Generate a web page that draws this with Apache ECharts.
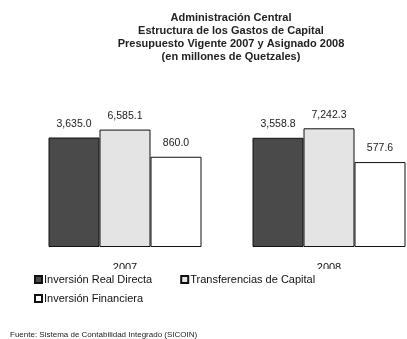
<!DOCTYPE html>
<html>
<head>
<meta charset="utf-8">
<script src="https://cdn.jsdelivr.net/npm/echarts@6/dist/echarts.min.js"></script>
<style>html,body{margin:0;padding:0;background:#fff;}#c{width:407px;height:339px;}</style>
</head>
<body>
<div id="c"></div>
<script>
var titleLines = ['Administración Central', 'Estructura de los Gastos de Capital', 'Presupuesto Vigente 2007 y Asignado 2008', '(en millones de Quetzales)'];
var categories = ['2007', '2008'];
var seriesNames = ['Inversión Real Directa', 'Transferencias de Capital', 'Inversión Financiera'];
var inversionReal = [3635.0, 3558.8];
var transferencias = [6585.1, 7242.3];
var inversionFin = [860.0, 577.6];
var sourceText = 'Fuente: Sistema de Contabilidad Integrado (SICOIN)';

var font = 'Liberation Sans, Arial, sans-serif';
function fmt(v) {
  var s = v.toFixed(1);
  var p = s.split('.');
  p[0] = p[0].replace(/\B(?=(\d{3})+(?!\d))/g, ',');
  return p.join('.');
}
var colors = ['#4a4a4a', '#e4e4e4', '#ffffff'];
var dataSets = [inversionReal, transferencias, inversionFin];

var chart = echarts.init(document.getElementById('c'), null, {renderer: 'canvas'});
chart.setOption({
  backgroundColor: '#fff',
  animation: false,
  title: {
    text: titleLines.join('\n'),
    left: 226, top: 6, textAlign: 'center',
    textStyle: {fontFamily: font, fontSize: 11, fontWeight: 'bold', color: '#222', lineHeight: 13}
  },
  graphic: [{
    type: 'rect', left: 0, top: 269, z: 3, silent: true,
    shape: {width: 407, height: 5},
    style: {fill: '#fff'}
  }, {
    type: 'text', left: 10, top: 331,
    style: {text: sourceText, font: '8px ' + font, fill: '#222'}
  }],
  legend: [{
    data: seriesNames.slice(0, 2),
    left: 34, top: 269, padding: [5, 0, 0, 0],
    backgroundColor: '#fff',
    itemWidth: 7, itemHeight: 7, itemGap: 28,
    icon: 'rect',
    textStyle: {fontFamily: font, fontSize: 11, color: '#111', padding: [0, 0, 0, -3]}
  }, {
    data: seriesNames.slice(2),
    left: 34, top: 293, padding: 0,
    itemWidth: 7, itemHeight: 7,
    icon: 'rect',
    textStyle: {fontFamily: font, fontSize: 11, color: '#111', padding: [0, 0, 0, -3]}
  }],
  grid: {left: 125, width: 204, top: 124, bottom: 92, containLabel: false},
  xAxis: {
    type: 'category', data: categories, boundaryGap: false,
    axisLine: {show: false}, axisTick: {show: false},
    axisLabel: {margin: 15, fontFamily: font, fontSize: 11, color: '#111', verticalAlign: 'top'}
  },
  yAxis: {
    type: 'log', logBase: 10, min: 1, max: 10000, show: false,
    splitLine: {show: false}
  },
  series: seriesNames.map(function (n, i) {
    return {
      name: n, type: 'bar', data: dataSets[i],
      barGap: '0%', barWidth: 51, clip: false,
      itemStyle: {color: colors[i], borderColor: '#111', borderWidth: 1},
      label: {
        show: true, position: 'top', distance: 8,
        fontFamily: font, fontSize: 10.5, color: '#222',
        formatter: function (p) { return fmt(p.value); }
      }
    };
  })
});
</script>
</body>
</html>
